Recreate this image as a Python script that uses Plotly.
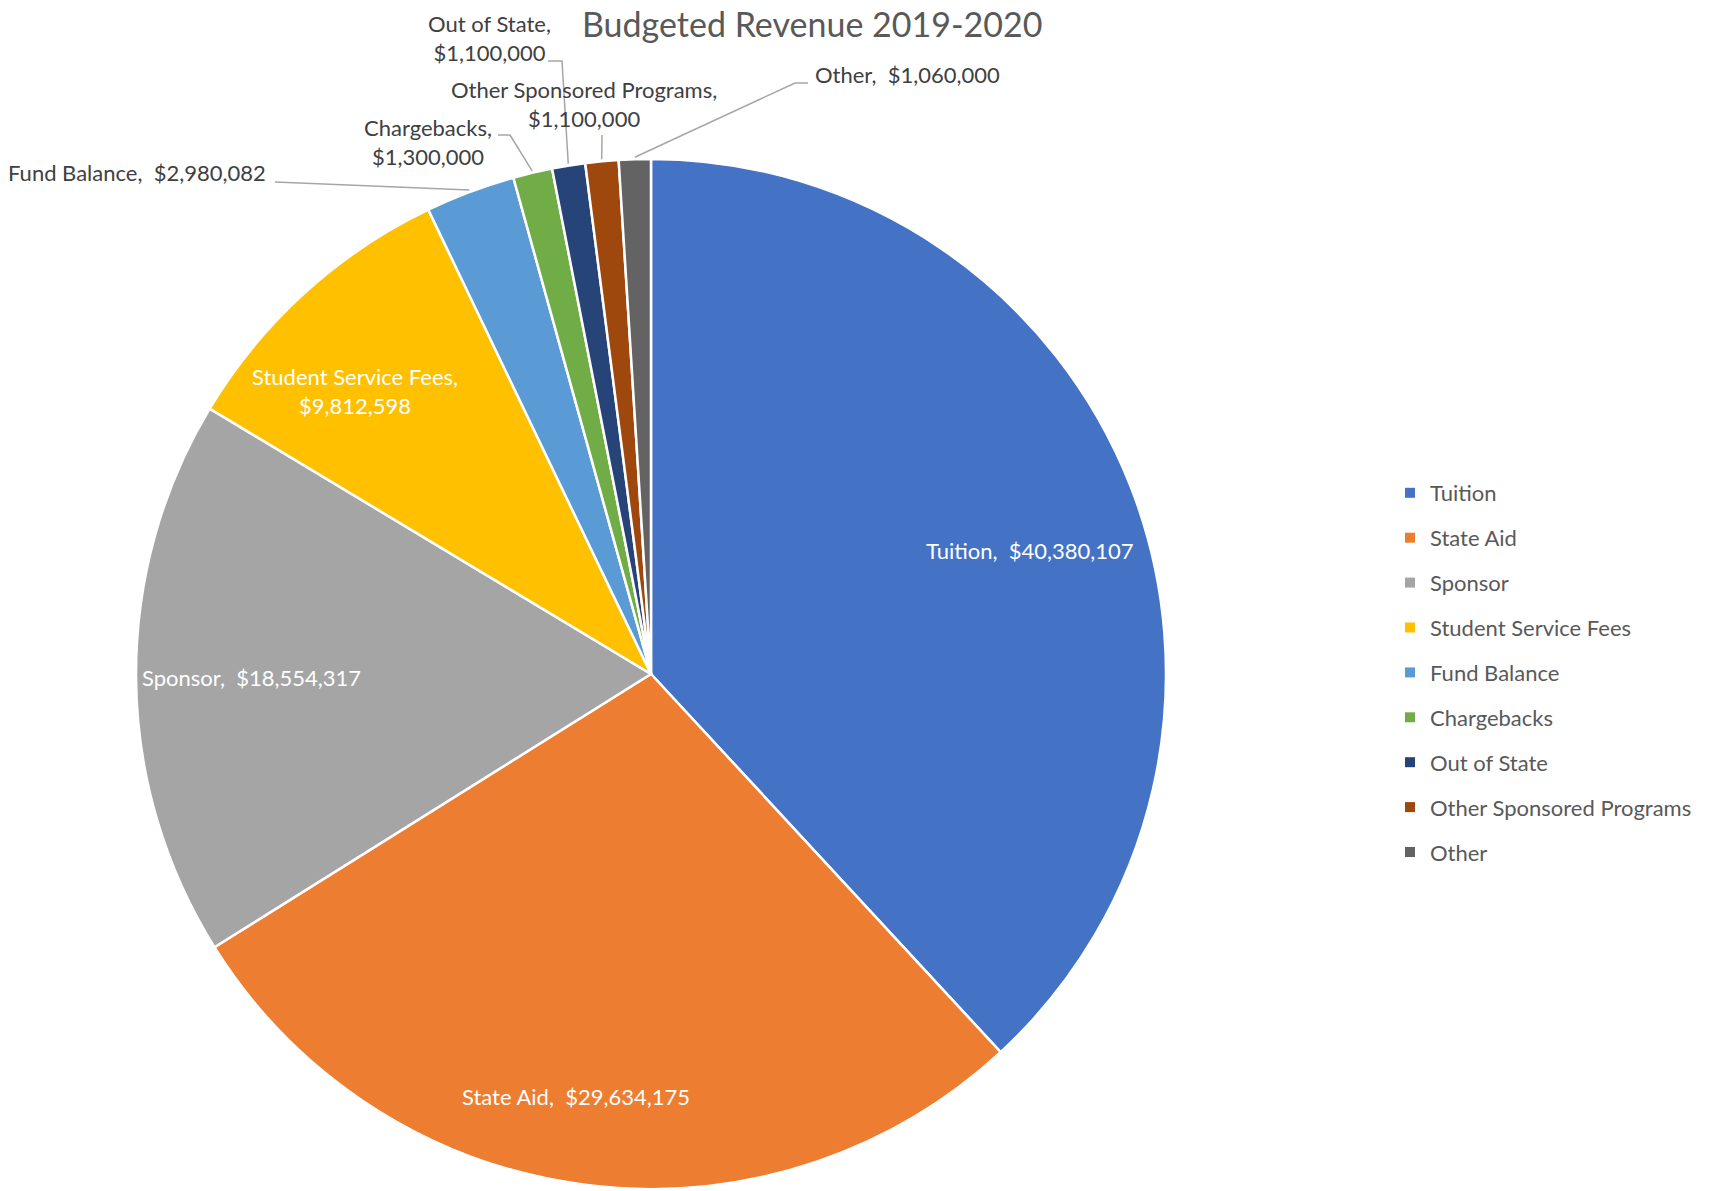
import numpy as np
import plotly.graph_objects as go

# Revenue categories and budgeted amounts
categories = ["Tuition", "State Aid", "Sponsor", "Student Service Fees", "Fund Balance",
              "Chargebacks", "Out of State", "Other Sponsored Programs", "Other"]
amounts = [40380107, 29634175, 18554317, 9812598, 2980082,
           1300000, 1100000, 1100000, 1060000]
colors = ["#4472C4", "#ED7D31", "#A5A5A5", "#FFC000", "#5B9BD5",
          "#70AD47", "#264478", "#9E480E", "#636363"]
title_text = "Budgeted Revenue 2019-2020"

# Canvas and pie geometry (pixels)
W, H = 1718, 1191
CX, CY, R = 651, 674, 515
FONT = "Lato, 'Open Sans', sans-serif"
LABEL_SIZE = 22

# Labels drawn inside their slice: (radius fraction, angular nudge in degrees)
inside_style = {
    "Tuition": (0.774, 3.4),
    "State Aid": (0.834, 2.4),
    "Sponsor": (0.775, 0.0),
    "Student Service Fees": (0.795, -4.0),
}
# Labels drawn outside with leader lines: text anchor, alignment, line break, leader points
outside_style = {
    "Fund Balance": dict(xy=(268, 173), xanchor="right", br=False, lead=[(275, 182)]),
    "Chargebacks": dict(xy=(428, 142), xanchor="center", br=True, lead=[(498, 135), (510, 135)]),
    "Out of State": dict(xy=(489, 38), xanchor="center", br=True, lead=[(548, 61), (562, 61)]),
    "Other Sponsored Programs": dict(xy=(584, 104), xanchor="center", br=True, lead=[(602, 135)]),
    "Other": dict(xy=(813, 75), xanchor="left", br=False, lead=[(808, 83), (795, 83)]),
}


def px_to_paper(x, y):
    return x / W, 1 - y / H


def polar_px(angle_deg, dist):
    a = np.radians(angle_deg)
    return CX + dist * np.sin(a), CY - dist * np.cos(a)


vals = np.array(amounts, dtype=float)
fracs = vals / vals.sum()
mid_angles = (np.cumsum(fracs) - fracs / 2) * 360.0


def label_text(name, amount, br):
    sep = "<br>" if br else "\u00a0 "
    return f"{name},{sep}${amount:,.0f}"


fig = go.Figure()

x0, y1 = px_to_paper(CX - R, CY - R)
x1, y0 = px_to_paper(CX + R, CY + R)
fig.add_trace(go.Pie(
    labels=categories,
    values=amounts,
    sort=False,
    direction="clockwise",
    rotation=0,
    marker=dict(colors=colors, line=dict(color="white", width=2.5)),
    textinfo="none",
    hoverinfo="label+value+percent",
    showlegend=False,
    domain=dict(x=[x0, x1], y=[y0, y1]),
))

# Legend entries (one group per category so the rows can be spaced out)
for name, c in zip(categories, colors):
    fig.add_trace(go.Scatter(
        x=[None], y=[None], mode="markers", name=name, legendgroup=name,
        marker=dict(symbol="square", size=10, color=c), showlegend=True,
    ))

annotations = []
shapes = []
for name, amount, ang in zip(categories, amounts, mid_angles):
    if name in inside_style:
        f, nudge = inside_style[name]
        px, py = polar_px(ang + nudge, f * R)
        ax_, ay_ = px_to_paper(px, py)
        annotations.append(dict(
            x=ax_, y=ay_, xref="paper", yref="paper", showarrow=False,
            text=label_text(name, amount, name == "Student Service Fees"),
            font=dict(family=FONT, size=LABEL_SIZE, color="white"),
            xanchor="center", yanchor="middle", align="center",
        ))
    else:
        st = outside_style[name]
        tx, ty = px_to_paper(*st["xy"])
        annotations.append(dict(
            x=tx, y=ty, xref="paper", yref="paper", showarrow=False,
            text=label_text(name, amount, st["br"]),
            font=dict(family=FONT, size=LABEL_SIZE, color="#404040"),
            xanchor=st["xanchor"], yanchor="middle", align="center",
        ))
        pts = list(st["lead"]) + [polar_px(ang, R + 2)]
        pts_p = [px_to_paper(*p) for p in pts]
        path = "M " + " L ".join(f"{p[0]:.5f},{p[1]:.5f}" for p in pts_p)
        shapes.append(dict(type="path", path=path, xref="paper", yref="paper",
                           line=dict(color="#A6A6A6", width=1.5)))

tx, ty = px_to_paper(812, 24)
annotations.append(dict(
    x=tx, y=ty, xref="paper", yref="paper", showarrow=False, text=title_text,
    font=dict(family=FONT, size=34, color="#595959"),
    xanchor="center", yanchor="middle",
))

lx, ly = px_to_paper(1390, 472)
fig.update_layout(
    width=W, height=H,
    margin=dict(l=0, r=0, t=0, b=0),
    paper_bgcolor="white", plot_bgcolor="white",
    xaxis=dict(visible=False), yaxis=dict(visible=False),
    annotations=annotations,
    shapes=shapes,
    legend=dict(
        x=lx, y=ly, xanchor="left", yanchor="top",
        font=dict(family=FONT, size=LABEL_SIZE, color="#595959"),
        tracegroupgap=13.3, itemclick=False, itemdoubleclick=False,
        bgcolor="rgba(0,0,0,0)",
    ),
)

fig.write_html("out.html")
